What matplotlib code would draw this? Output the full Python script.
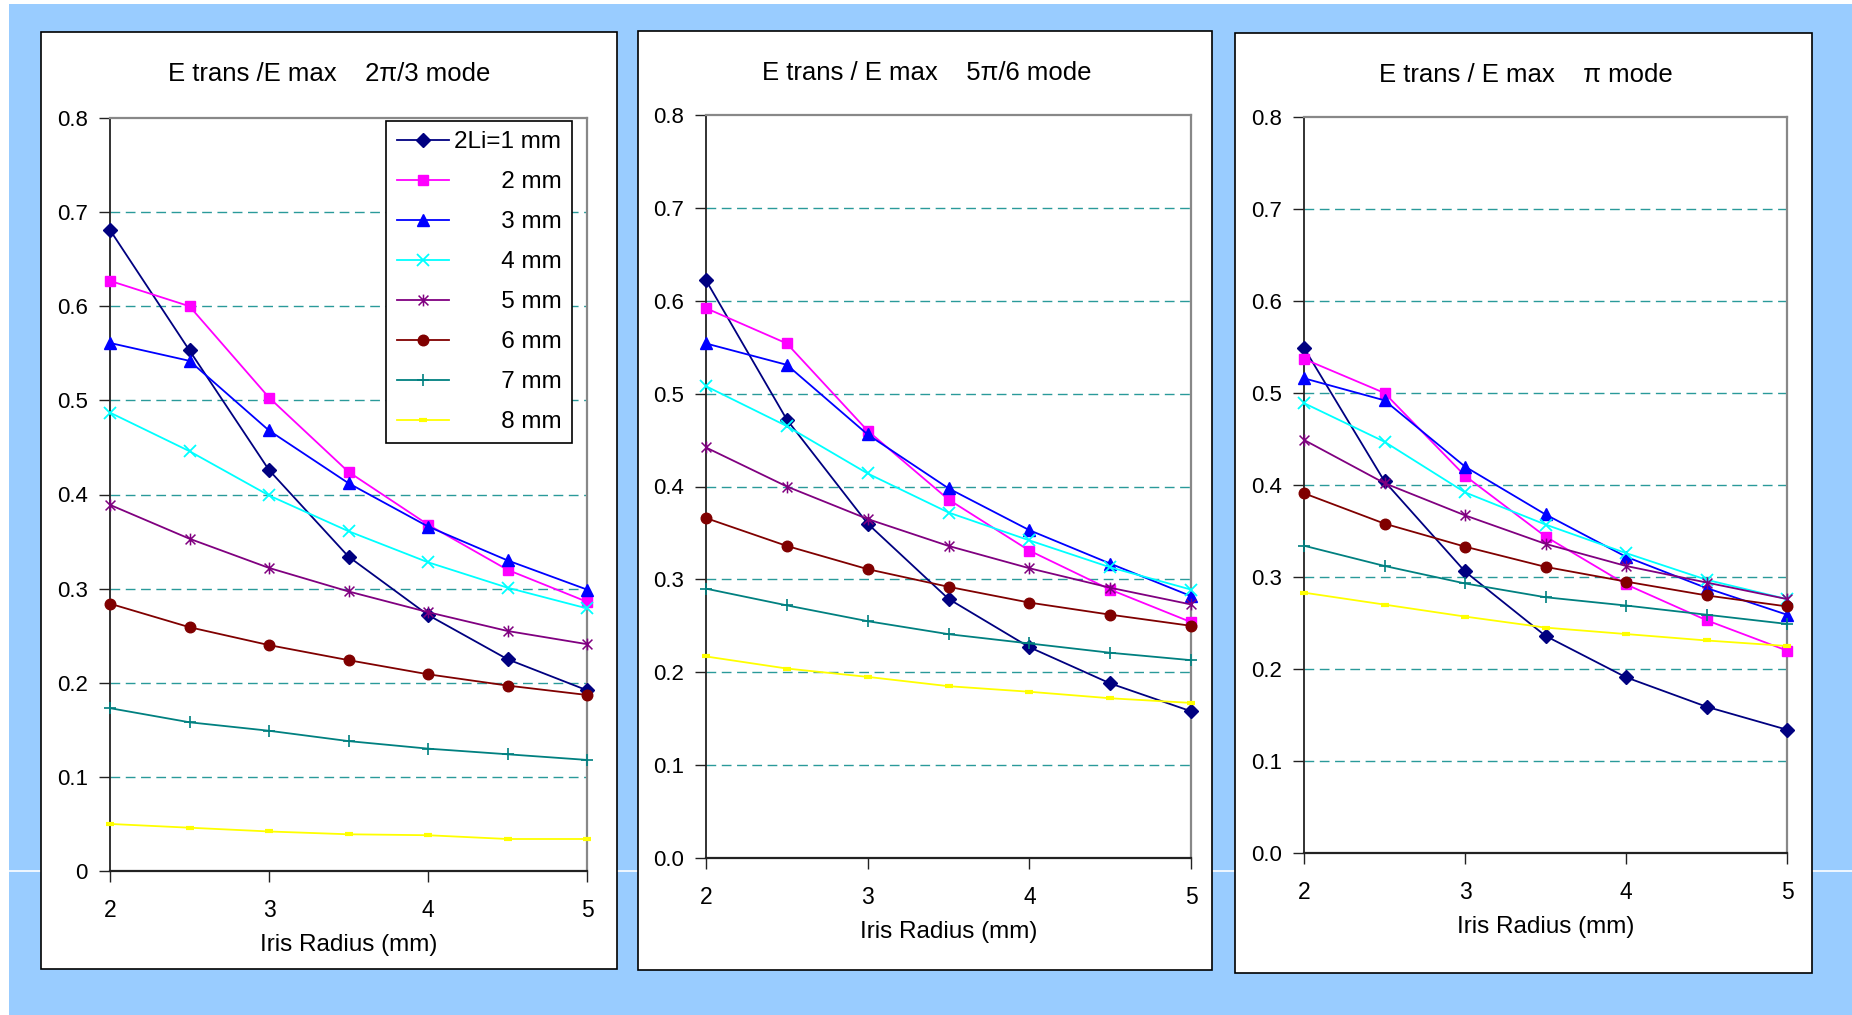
import matplotlib.pyplot as plt
from matplotlib.patches import Rectangle
from matplotlib.lines import Line2D
from matplotlib.path import Path
from matplotlib.ticker import FormatStrFormatter

plt.rcParams['font.family'] = ['Liberation Sans', 'DejaVu Sans']

# iris radius (mm), same for every curve
iris = [2, 2.5, 3, 3.5, 4, 4.5, 5]

legend_labels = ['2Li=1 mm', '       2 mm', '       3 mm', '       4 mm',
                 '       5 mm', '       6 mm', '       7 mm', '       8 mm']

titles = ['E trans /E max    2\u03c0/3 mode',
          'E trans / E max    5\u03c0/6 mode',
          'E trans / E max    \u03c0 mode']

# E trans / E max, one row per 2Li value (1..8 mm)
mode_2pi_3 = [
    [0.681, 0.553, 0.426, 0.334, 0.272, 0.225, 0.192],
    [0.627, 0.600, 0.503, 0.424, 0.368, 0.320, 0.286],
    [0.561, 0.542, 0.468, 0.412, 0.366, 0.330, 0.299],
    [0.487, 0.446, 0.399, 0.361, 0.328, 0.301, 0.279],
    [0.389, 0.353, 0.322, 0.297, 0.275, 0.255, 0.241],
    [0.284, 0.259, 0.240, 0.224, 0.209, 0.197, 0.187],
    [0.173, 0.158, 0.149, 0.138, 0.130, 0.124, 0.118],
    [0.050, 0.046, 0.042, 0.039, 0.038, 0.034, 0.034],
]
mode_5pi_6 = [
    [0.622, 0.472, 0.360, 0.279, 0.227, 0.188, 0.158],
    [0.592, 0.554, 0.460, 0.386, 0.331, 0.289, 0.254],
    [0.554, 0.531, 0.456, 0.398, 0.353, 0.317, 0.282],
    [0.508, 0.465, 0.414, 0.372, 0.342, 0.313, 0.289],
    [0.442, 0.400, 0.365, 0.336, 0.312, 0.291, 0.273],
    [0.366, 0.336, 0.311, 0.292, 0.275, 0.262, 0.250],
    [0.290, 0.272, 0.255, 0.241, 0.231, 0.221, 0.213],
    [0.217, 0.204, 0.195, 0.185, 0.179, 0.172, 0.167],
]
mode_pi = [
    [0.549, 0.404, 0.306, 0.236, 0.191, 0.159, 0.134],
    [0.537, 0.500, 0.410, 0.344, 0.292, 0.253, 0.220],
    [0.516, 0.492, 0.420, 0.368, 0.322, 0.288, 0.259],
    [0.489, 0.447, 0.392, 0.357, 0.326, 0.297, 0.276],
    [0.449, 0.402, 0.367, 0.336, 0.312, 0.294, 0.276],
    [0.391, 0.358, 0.333, 0.311, 0.295, 0.280, 0.268],
    [0.334, 0.312, 0.293, 0.278, 0.269, 0.259, 0.249],
    [0.283, 0.270, 0.257, 0.245, 0.238, 0.231, 0.225],
]
panels = [mode_2pi_3, mode_5pi_6, mode_pi]

# excel style series
star = Path([(-1, -1), (1, 1), (-1, 1), (1, -1), (0, -1.2), (0, 1.2)],
            [Path.MOVETO, Path.LINETO, Path.MOVETO, Path.LINETO, Path.MOVETO, Path.LINETO])
colors = ['#000080', '#FF00FF', '#0000FF', '#00FFFF', '#800080', '#800000', '#008080', '#FFFF00']
markers = ['D', 's', '^', 'x', star, 'o', '+', '_']
msizes = [6.8, 7.6, 8.6, 8.5, 8.5, 7.6, 9, 6]
mews = [1, 1, 1, 1.3, 1.1, 1, 1.2, 3]

W, H = 1852, 1015
fig = plt.figure(figsize=(W / 100, H / 100), dpi=100, facecolor='white')

# light blue slide background, white line across it
fig.patches.append(Rectangle((9 / W, 0), 1 - 9 / W, 1 - 4 / H, transform=fig.transFigure,
                             facecolor='#99CCFF', edgecolor='none', zorder=0))
fig.lines.append(Line2D([0, 1], [1 - 871 / H, 1 - 871 / H], transform=fig.transFigure,
                        color='white', lw=1.2, zorder=1))

# white chart boxes (left, top, right, bottom in px)
boxes = [(41, 32, 617, 969), (638, 31, 1212, 970), (1235, 33, 1812, 973)]
# plot areas (x at 2, y at 0.8, x at 5, y at 0)
areas = [(110, 118, 587, 871), (706, 115, 1191, 858), (1304, 117, 1787, 853)]
title_pos = [(329, 74), (927, 73), (1526, 75)]

for k in range(3):
    l, t, r, b = boxes[k]
    fig.patches.append(Rectangle((l / W, 1 - b / H), (r - l) / W, (b - t) / H,
                                 transform=fig.transFigure, facecolor='white',
                                 edgecolor='black', lw=1.2, zorder=2))
    l, t, r, b = areas[k]
    ax = fig.add_axes([l / W, 1 - b / H, (r - l) / W, (b - t) / H], zorder=3)
    ax.set_facecolor('none')

    data = panels[k]
    for i in range(8):
        ax.plot(iris, data[i], color=colors[i], marker=markers[i], ms=msizes[i],
                mew=mews[i], mec=colors[i], mfc=colors[i], lw=1.3,
                label=legend_labels[i], clip_on=False, zorder=4)

    ax.set_xlim(2, 5)
    ax.set_ylim(0, 0.8)
    ax.set_xticks([2, 3, 4, 5])
    ax.set_yticks([0, 0.1, 0.2, 0.3, 0.4, 0.5, 0.6, 0.7, 0.8])
    if k == 0:
        ax.set_yticklabels(['0', '0.1', '0.2', '0.3', '0.4', '0.5', '0.6', '0.7', '0.8'])
    else:
        ax.yaxis.set_major_formatter(FormatStrFormatter('%.1f'))
    ax.tick_params(axis='y', direction='out', length=8, width=1, pad=8, labelsize=16, color='#222222')
    ax.tick_params(axis='x', direction='out', length=8, width=1, pad=12.5, labelsize=16.5, color='#222222')

    for yv in [0.1, 0.2, 0.3, 0.4, 0.5, 0.6, 0.7]:
        ax.axhline(yv, color='#2A9A9A', lw=1, ls=(0, (7, 4)), zorder=1)

    ax.spines['left'].set_color('#222222')
    ax.spines['bottom'].set_color('#222222')
    ax.spines['left'].set_linewidth(1.3)
    ax.spines['bottom'].set_linewidth(1.6)
    ax.spines['top'].set_color('#888888')
    ax.spines['right'].set_color('#888888')
    ax.spines['top'].set_linewidth(1.6)
    ax.spines['right'].set_linewidth(1.6)

    ax.set_xlabel('Iris Radius (mm)', fontsize=17.5, labelpad=8)

    tx, ty = title_pos[k]
    fig.text(tx / W, 1 - ty / H, titles[k], fontsize=18.5, ha='center', va='center', zorder=5)

    if k == 0:
        leg = ax.legend(loc='upper right', bbox_to_anchor=(0.9686, 0.996), borderaxespad=0,
                        fontsize=17.5, handlelength=2.14, labelspacing=0.74, borderpad=0.42,
                        fancybox=False, framealpha=1, edgecolor='black', handletextpad=0.22)
        leg.get_frame().set_linewidth(1.2)
        leg.set_zorder(6)

fig.savefig('out.png', dpi=100, facecolor=fig.get_facecolor())
